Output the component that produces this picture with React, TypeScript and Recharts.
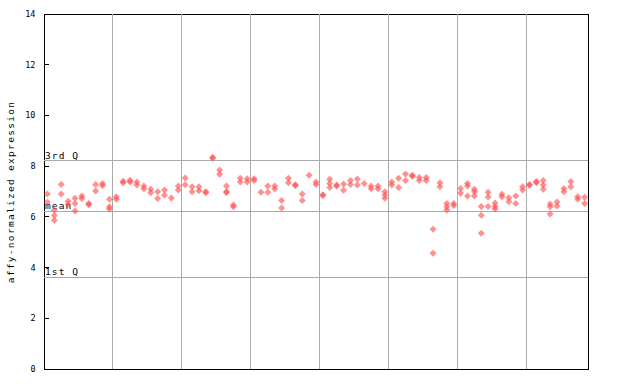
import React from "react";
import {
  ScatterChart,
  Scatter,
  XAxis,
  YAxis,
  ReferenceLine,
  ReferenceArea,
} from "recharts";

// replicate values per sample, left to right
const sampleValues: number[][] = [
  [6.9, 6.58], [6.27, 6.05, 5.87], [7.28, 6.9], [6.62, 6.49], [6.73, 6.53, 6.23],
  [6.82, 6.72], [6.53, 6.48], [7.28, 7.02], [7.32, 7.24], [6.69, 6.4, 6.31],
  [6.79, 6.69], [7.4, 7.35], [7.44, 7.37], [7.37, 7.26], [7.22, 7.11],
  [7.09, 6.95], [6.99, 6.72], [7.06, 6.85], [6.74], [7.22, 7.06],
  [7.53, 7.27], [7.19, 6.99], [7.19, 7.03], [6.99, 6.95], [8.35, 8.31],
  [7.85, 7.68], [7.22, 6.99, 6.96], [6.47, 6.4], [7.52, 7.37], [7.5, 7.37],
  [7.5, 7.43], [6.97], [7.22, 6.97], [7.22, 7.1], [6.65, 6.35],
  [7.52, 7.35], [7.27, 7.24], [6.9, 6.65], [7.64], [7.37, 7.28],
  [6.87, 6.84], [7.48, 7.32, 7.16], [7.26, 7.22], [7.3, 7.05], [7.43, 7.28],
  [7.49, 7.26], [7.32], [7.22, 7.11], [7.22, 7.11], [6.99, 6.86, 6.73],
  [7.37, 7.26], [7.52, 7.16], [7.69, 7.43], [7.64, 7.6], [7.55, 7.43],
  [7.55, 7.43], [5.51, 4.56], [7.35, 7.19], [6.53, 6.4, 6.27], [6.53, 6.45],
  [7.12, 6.93], [7.32, 7.22, 6.82], [7.09, 6.99, 6.82], [6.41, 6.06, 5.35], [6.97, 6.78, 6.41],
  [6.55, 6.41, 6.31], [6.89, 6.79], [6.75, 6.6], [6.82, 6.53], [7.19, 7.06],
  [7.28, 7.25], [7.39, 7.35], [7.43, 7.26, 7.09], [6.51, 6.4, 6.11], [6.59, 6.43],
  [7.12, 6.99], [7.39, 7.19], [6.79, 6.69], [6.77, 6.53],
];

const groupBreaks = [9.5, 19.5, 29.5, 39.5, 49.5, 59.5, 69.5];
const yTicks = [0, 2, 4, 6, 8, 10, 12, 14];
const quartileLines = [
  { label: "3rd Q", value: 8.21 },
  { label: "mean", value: 6.23 },
  { label: "1st Q", value: 3.62 },
];

const points = sampleValues.flatMap((vals, i) => vals.map((v) => ({ x: i, y: v })));

const FONT = "'DejaVu Sans Mono', monospace";
const RED = "#ff4d4d";

const Diamond = (props: any) => {
  const { cx, cy } = props;
  if (cx == null || cy == null) return null;
  return (
    <path
      d={`M${cx},${cy - 3.5} L${cx + 3.5},${cy} L${cx},${cy + 3.5} L${cx - 3.5},${cy} Z`}
      fill={RED}
      fillOpacity={0.62}
    />
  );
};

const LeftTick = (props: any) => {
  const { y, payload } = props;
  return (
    <g>
      <line x1={44} x2={49} y1={y} y2={y} stroke="#000" shapeRendering="crispEdges" />
      <text x={35.5} y={y + 3} textAnchor="end" fontFamily={FONT} fontSize={8.5} fill="#000">
        {payload.value}
      </text>
    </g>
  );
};

const RightTick = (props: any) => {
  const { y } = props;
  return <line x1={583} x2={588} y1={y} y2={y} stroke="#000" shapeRendering="crispEdges" />;
};

export default function App() {
  return (
    <div style={{ position: "absolute", left: 0, top: 0, background: "#fff" }}>
      <ScatterChart width={640} height={384} margin={{ top: 14, right: 0, bottom: 15, left: 0 }}>
        <XAxis type="number" dataKey="x" domain={[-0.5, 78.5]} hide />
        <YAxis
          type="number"
          dataKey="y"
          domain={[0, 14]}
          ticks={yTicks}
          width={44}
          axisLine={false}
          tickLine={false}
          tick={<LeftTick />}
          label={(p: any) => (
            <text
              x={14}
              y={192}
              transform="rotate(-90 14 192)"
              textAnchor="middle"
              fontFamily={FONT}
              fontSize={9.5}
              letterSpacing={1.3}
              fill="#000"
            >
              affy-normalized expression
            </text>
          )}
        />
        <YAxis
          yAxisId="r"
          orientation="right"
          type="number"
          domain={[0, 14]}
          ticks={yTicks}
          width={52}
          axisLine={false}
          tickLine={false}
          tick={<RightTick />}
        />
        {groupBreaks.map((b) => (
          <ReferenceLine key={b} x={b} stroke="#aaaaaa" shapeRendering="crispEdges" />
        ))}
        {quartileLines.map((q) => (
          <ReferenceLine
            key={q.label}
            y={q.value}
            stroke="#aaaaaa"
            shapeRendering="crispEdges"
            label={(p: any) => (
              <text
                x={(p.viewBox?.x ?? 44) + 1}
                y={(p.viewBox?.y ?? 0) - 2}
                fontFamily={FONT}
                fontSize={9.5}
                letterSpacing={1.1}
                fill="#000"
              >
                {q.label}
              </text>
            )}
          />
        ))}
        <ReferenceArea
          x1={-0.5}
          x2={78.5}
          y1={0}
          y2={14}
          fill="none"
          stroke="#000"
          strokeOpacity={1}
          shapeRendering="crispEdges"
        />
        <Scatter data={points} shape={<Diamond />} isAnimationActive={false} />
      </ScatterChart>
    </div>
  );
}
